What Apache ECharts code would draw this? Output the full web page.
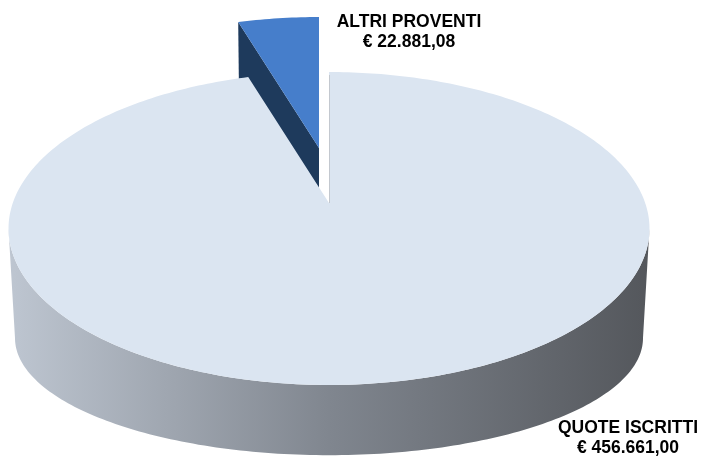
<!DOCTYPE html>
<html>
<head>
<meta charset="utf-8">
<script src="https://cdn.jsdelivr.net/npm/echarts@6/dist/echarts.min.js"></script>
<style>
html,body{margin:0;padding:0;background:#fff;}
#chart{width:701px;height:457px;}
</style>
</head>
<body>
<div id="chart"></div>
<script>
// ---- data ----
const categories = ['QUOTE ISCRITTI', 'ALTRI PROVENTI'];
const values = [456661.00, 22881.08];
const valueLabels = ['€ 456.661,00', '€ 22.881,08'];

// ---- pseudo-3D projection (top and bottom planes of the pie) ----
const TOP = {x0: 329, y0: 203, a: 316.2, b: 152.3, c: 0.163};
const BOT = {x0: 329, y0: 319, a: 309.8, b: 114, c: 0.163};
const EXPLODE = [[0, 0], [-10, -55]];
const LABEL_POS = [[628, 438], [409, 32]];
const TOP_COLORS = ['#dbe5f1', '#467ecb'];
const SIDE_COLORS = ['#b9c0ca', '#1e3a5c'];

function proj(p, u, v, off) {
  const w = 1 + p.c * v;
  return [p.x0 + p.a * u / w + off[0], p.y0 - p.b * v / w + off[1]];
}
function pt(p, deg, off) {
  const r = deg * Math.PI / 180;
  return proj(p, Math.sin(r), Math.cos(r), off);
}
function arc(p, a0, a1, off) {
  const pts = [];
  const n = Math.max(2, Math.ceil(Math.abs(a1 - a0)));
  for (let i = 0; i <= n; i++) pts.push(pt(p, a0 + (a1 - a0) * i / n, off));
  return pts;
}

const chart = echarts.init(document.getElementById('chart'), null, {renderer: 'canvas'});

function renderItem(params, api) {
  const idx = params.dataIndex;
  const total = values.reduce((s, v) => s + v, 0);
  let start = 0;
  for (let i = 0; i < idx; i++) start += api.value(0, i) !== undefined ? values[i] * 360 / total : 0;
  const end = start + api.value(0) * 360 / total;
  const off = EXPLODE[idx];
  const baseZ = idx === 0 ? 10 : 1;
  const children = [];

  // front wall (visible between the silhouette angles)
  const sA = Math.acos(-TOP.c) * 180 / Math.PI; // ~99.4
  const lo = Math.max(start, sA), hi = Math.min(end, 360 - sA);
  if (hi > lo) {
    const pts = arc(TOP, lo, hi, off).concat(arc(BOT, lo, hi, off).reverse());
    children.push({
      type: 'polygon', z2: baseZ,
      shape: {points: pts},
      style: {
        fill: new echarts.graphic.LinearGradient(0, 0, 1, 0, [
          {offset: 0, color: '#bec6d1'},
          {offset: 0.5, color: '#80868f'},
          {offset: 1, color: '#54575c'}
        ])
      }
    });
  }
  // radial faces
  const faces = [];
  const rs = start * Math.PI / 180, re = end * Math.PI / 180;
  if (Math.sin(rs) < -1e-3) faces.push(start);
  if (Math.sin(re) > 1e-3) faces.push(end);
  faces.forEach(function (ang) {
    const pts = [proj(TOP, 0, 0, off), pt(TOP, ang, off), pt(BOT, ang, off), proj(BOT, 0, 0, off)];
    children.push({type: 'polygon', z2: baseZ + 1, shape: {points: pts}, style: {fill: SIDE_COLORS[idx]}});
  });
  // top face
  const topPts = [proj(TOP, 0, 0, off)].concat(arc(TOP, start, end, off));
  children.push({type: 'polygon', z2: baseZ + 2, shape: {points: topPts}, style: {fill: TOP_COLORS[idx]}});
  if (idx === 0) {
    const t = proj(TOP, 0, 0, off), o = pt(TOP, 0, off);
    children.push({type: 'line', z2: baseZ + 3,
      shape: {x1: t[0] + 0.5, y1: t[1], x2: o[0] + 0.5, y2: o[1] + 3},
      style: {stroke: '#c3c8cf', lineWidth: 1}});
  }
  // label
  children.push({
    type: 'text', z2: 50,
    x: LABEL_POS[idx][0], y: LABEL_POS[idx][1],
    style: {
      text: categories[idx] + '\n' + valueLabels[idx],
      fontFamily: 'Liberation Sans, Arial, sans-serif',
      fontWeight: 'bold', fontSize: 17.5, lineHeight: 19.5,
      fill: '#000', align: 'center', verticalAlign: 'middle'
    }
  });
  return {type: 'group', children: children};
}

chart.setOption({
  animation: false,
  backgroundColor: '#fff',
  series: [{
    type: 'custom',
    coordinateSystem: 'none',
    renderItem: renderItem,
    data: values.map((v, i) => ({name: categories[i], value: v}))
  }]
});
</script>
</body>
</html>
